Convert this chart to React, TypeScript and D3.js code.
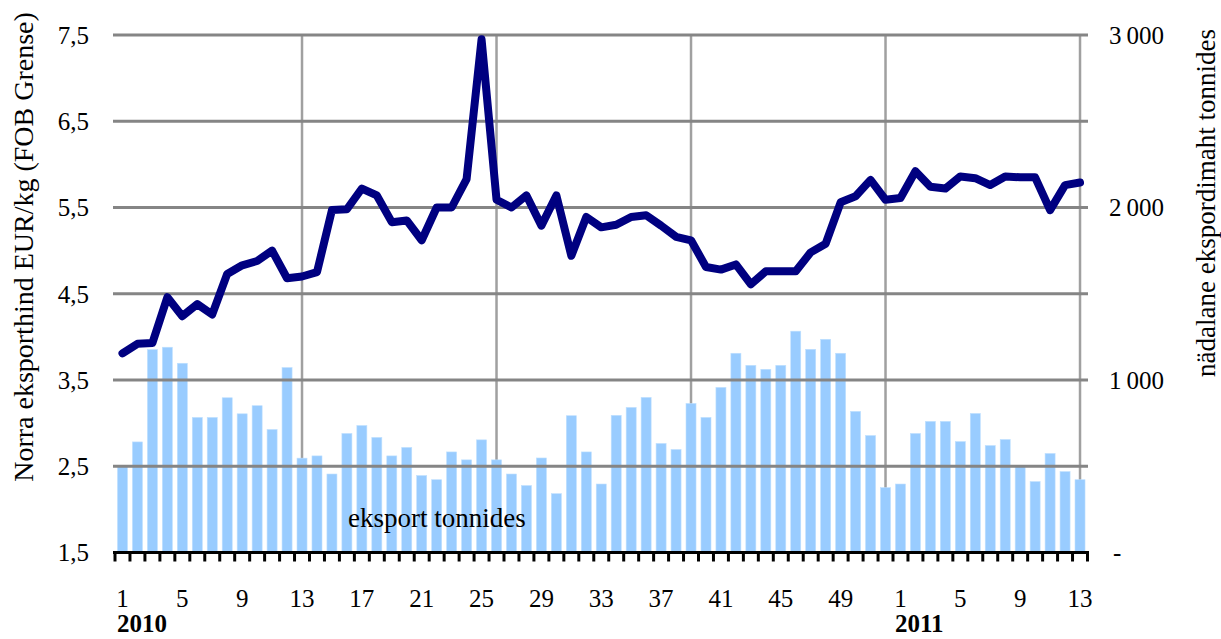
import React from "react";
import * as d3 from "d3";

const weeks2010 = [1,2,3,4,5,6,7,8,9,10,11,12,13,14,15,16,17,18,19,20,21,22,23,24,25,26,27,28,29,30,31,32,33,34,35,36,37,38,39,40,41,42,43,44,45,46,47,48,49,50,51,52];
const weeks2011 = [1,2,3,4,5,6,7,8,9,10,11,12,13];

const price2010 = [3.81,3.92,3.93,4.46,4.24,4.38,4.26,4.73,4.83,4.88,5.0,4.68,4.70,4.75,5.47,5.48,5.72,5.64,5.33,5.35,5.12,5.5,5.5,5.83,7.45,5.59,5.5,5.64,5.29,5.64,4.94,5.39,5.27,5.30,5.39,5.41,5.29,5.16,5.12,4.81,4.78,4.84,4.61,4.76,4.76,4.76,4.98,5.08,5.56,5.63,5.82,5.59];
const price2011 = [5.61,5.92,5.74,5.72,5.86,5.84,5.76,5.86,5.85,5.85,5.47,5.76,5.79];

const export2010 = [500,641,1176,1190,1097,783,783,897,804,851,713,1072,547,560,455,690,736,667,560,609,446,422,583,537,653,537,455,388,548,341,793,583,397,795,841,899,632,597,864,783,957,1155,1085,1062,1085,1283,1178,1236,1155,818,678,376];
const export2011 = [397,690,760,760,643,806,620,655,502,411,574,469,422];

const leftTicks = [1.5, 2.5, 3.5, 4.5, 5.5, 6.5, 7.5];
const rightTicks = [0, 1000, 2000, 3000];
const xLabelWeeks = [1, 5, 9, 13, 17, 21, 25, 29, 33, 37, 41, 45, 49];
const xLabelWeeks2011 = [1, 5, 9, 13];
const quarterWeeks = ["2010-13", "2010-26", "2010-39", "2010-52", "2011-13"];
const years = ["2010", "2011"];

const leftTitle = "Norra eksporthind EUR/kg (FOB Grense)";
const rightTitle = "nädalane ekspordimaht tonnides";
const barLabel = "eksport tonnides";

type Row = { key: string; week: number; year: string; price: number; exp: number };
const rows: Row[] = [
  ...weeks2010.map((w, i) => ({ key: `2010-${w}`, week: w, year: "2010", price: price2010[i], exp: export2010[i] })),
  ...weeks2011.map((w, i) => ({ key: `2011-${w}`, week: w, year: "2011", price: price2011[i], exp: export2011[i] })),
];

const FONT = "'Liberation Serif', 'Times New Roman', serif";

export default function App() {
  const left = 115, right = 1087.5, top = 35, bottom = 552.5;
  const x = d3.scaleBand<string>().domain(rows.map(r => r.key)).range([left, right]).paddingInner(0.33).paddingOuter(0.165);
  const step = x.step();
  const bw = x.bandwidth();
  const cx = (k: string) => (x(k) as number) + bw / 2;
  const yL = d3.scaleLinear().domain([1.5, 7.5]).range([bottom, top]);
  const yR = d3.scaleLinear().domain([0, 3000]).range([bottom, top]);
  const line = d3.line<Row>().x(r => cx(r.key)).y(r => yL(r.price));
  const fmtR = (v: number) => (v === 0 ? "-" : d3.format(",")(v).replace(",", "\u2009"));
  const fmtL = (v: number) => d3.format(".1f")(v).replace(".", ",");
  const tickEdges = d3.range(rows.length + 1).map(i => left + (x.step() * i));

  return (
    <svg width={1221} height={639} style={{ position: "absolute", left: 0, top: 0, background: "#fff" }} fontFamily={FONT}>
      {/* vertical gridlines (behind bars) */}
      {quarterWeeks.map(k => (
        <line key={k} x1={cx(k)} x2={cx(k)} y1={top} y2={bottom} stroke="#a0a0a0" strokeWidth={2.5} />
      ))}
      {/* bars */}
      {rows.map(r => (
        <rect key={r.key} x={x(r.key)} y={yR(r.exp)} width={bw} height={bottom - yR(r.exp)} fill="#99CCFF" stroke="#bfe0ff" strokeWidth={0.6} />
      ))}
      {/* horizontal gridlines */}
      {leftTicks.filter(t => t > 1.5).map(t => (
        <line key={t} x1={113} x2={1088} y1={yL(t)} y2={yL(t)} stroke="#858585" strokeWidth={3} />
      ))}
      {/* x axis */}
      <line x1={113} x2={1089} y1={bottom} y2={bottom} stroke="#000" strokeWidth={3} />
      {tickEdges.map((tx, i) => (
        <line key={i} x1={tx} x2={tx} y1={bottom} y2={bottom + 9} stroke="#000" strokeWidth={3} />
      ))}
      {/* price line */}
      <path d={line(rows) || ""} fill="none" stroke="#000080" strokeWidth={8} strokeLinejoin="round" strokeLinecap="round" />
      {/* left ticks */}
      {leftTicks.map(t => (
        <text key={t} x={89} y={yL(t)} dy="0.35em" textAnchor="end" fontSize={25} fill="#000">{fmtL(t)}</text>
      ))}
      {/* right ticks */}
      {rightTicks.map(t => (
        <text key={t} x={t === 0 ? 1113 : 1109} y={yR(t)} dy="0.35em" textAnchor="start" fontSize={25} fill="#000">{fmtR(t)}</text>
      ))}
      {/* x labels */}
      {xLabelWeeks.map(w => (
        <text key={"a" + w} x={cx(`2010-${w}`)} y={607} textAnchor="middle" fontSize={25} fill="#000">{w}</text>
      ))}
      {xLabelWeeks2011.map(w => (
        <text key={"b" + w} x={cx(`2011-${w}`)} y={607} textAnchor="middle" fontSize={25} fill="#000">{w}</text>
      ))}
      {years.map(yr => (
        <text key={yr} x={(x(`${yr}-1`) as number) - step * 0.165 + 2} y={632} fontSize={25} fontWeight="bold" fill="#000">{yr}</text>
      ))}
      {/* bar label */}
      <text x={348} y={527} fontSize={27} fill="#000">{barLabel}</text>
      {/* axis titles */}
      <text transform={`translate(33,247) rotate(-90)`} textAnchor="middle" fontSize={28} fill="#000">{leftTitle}</text>
      <text transform={`translate(1215,203) rotate(-90)`} textAnchor="middle" fontSize={27} fill="#000">{rightTitle}</text>
    </svg>
  );
}
